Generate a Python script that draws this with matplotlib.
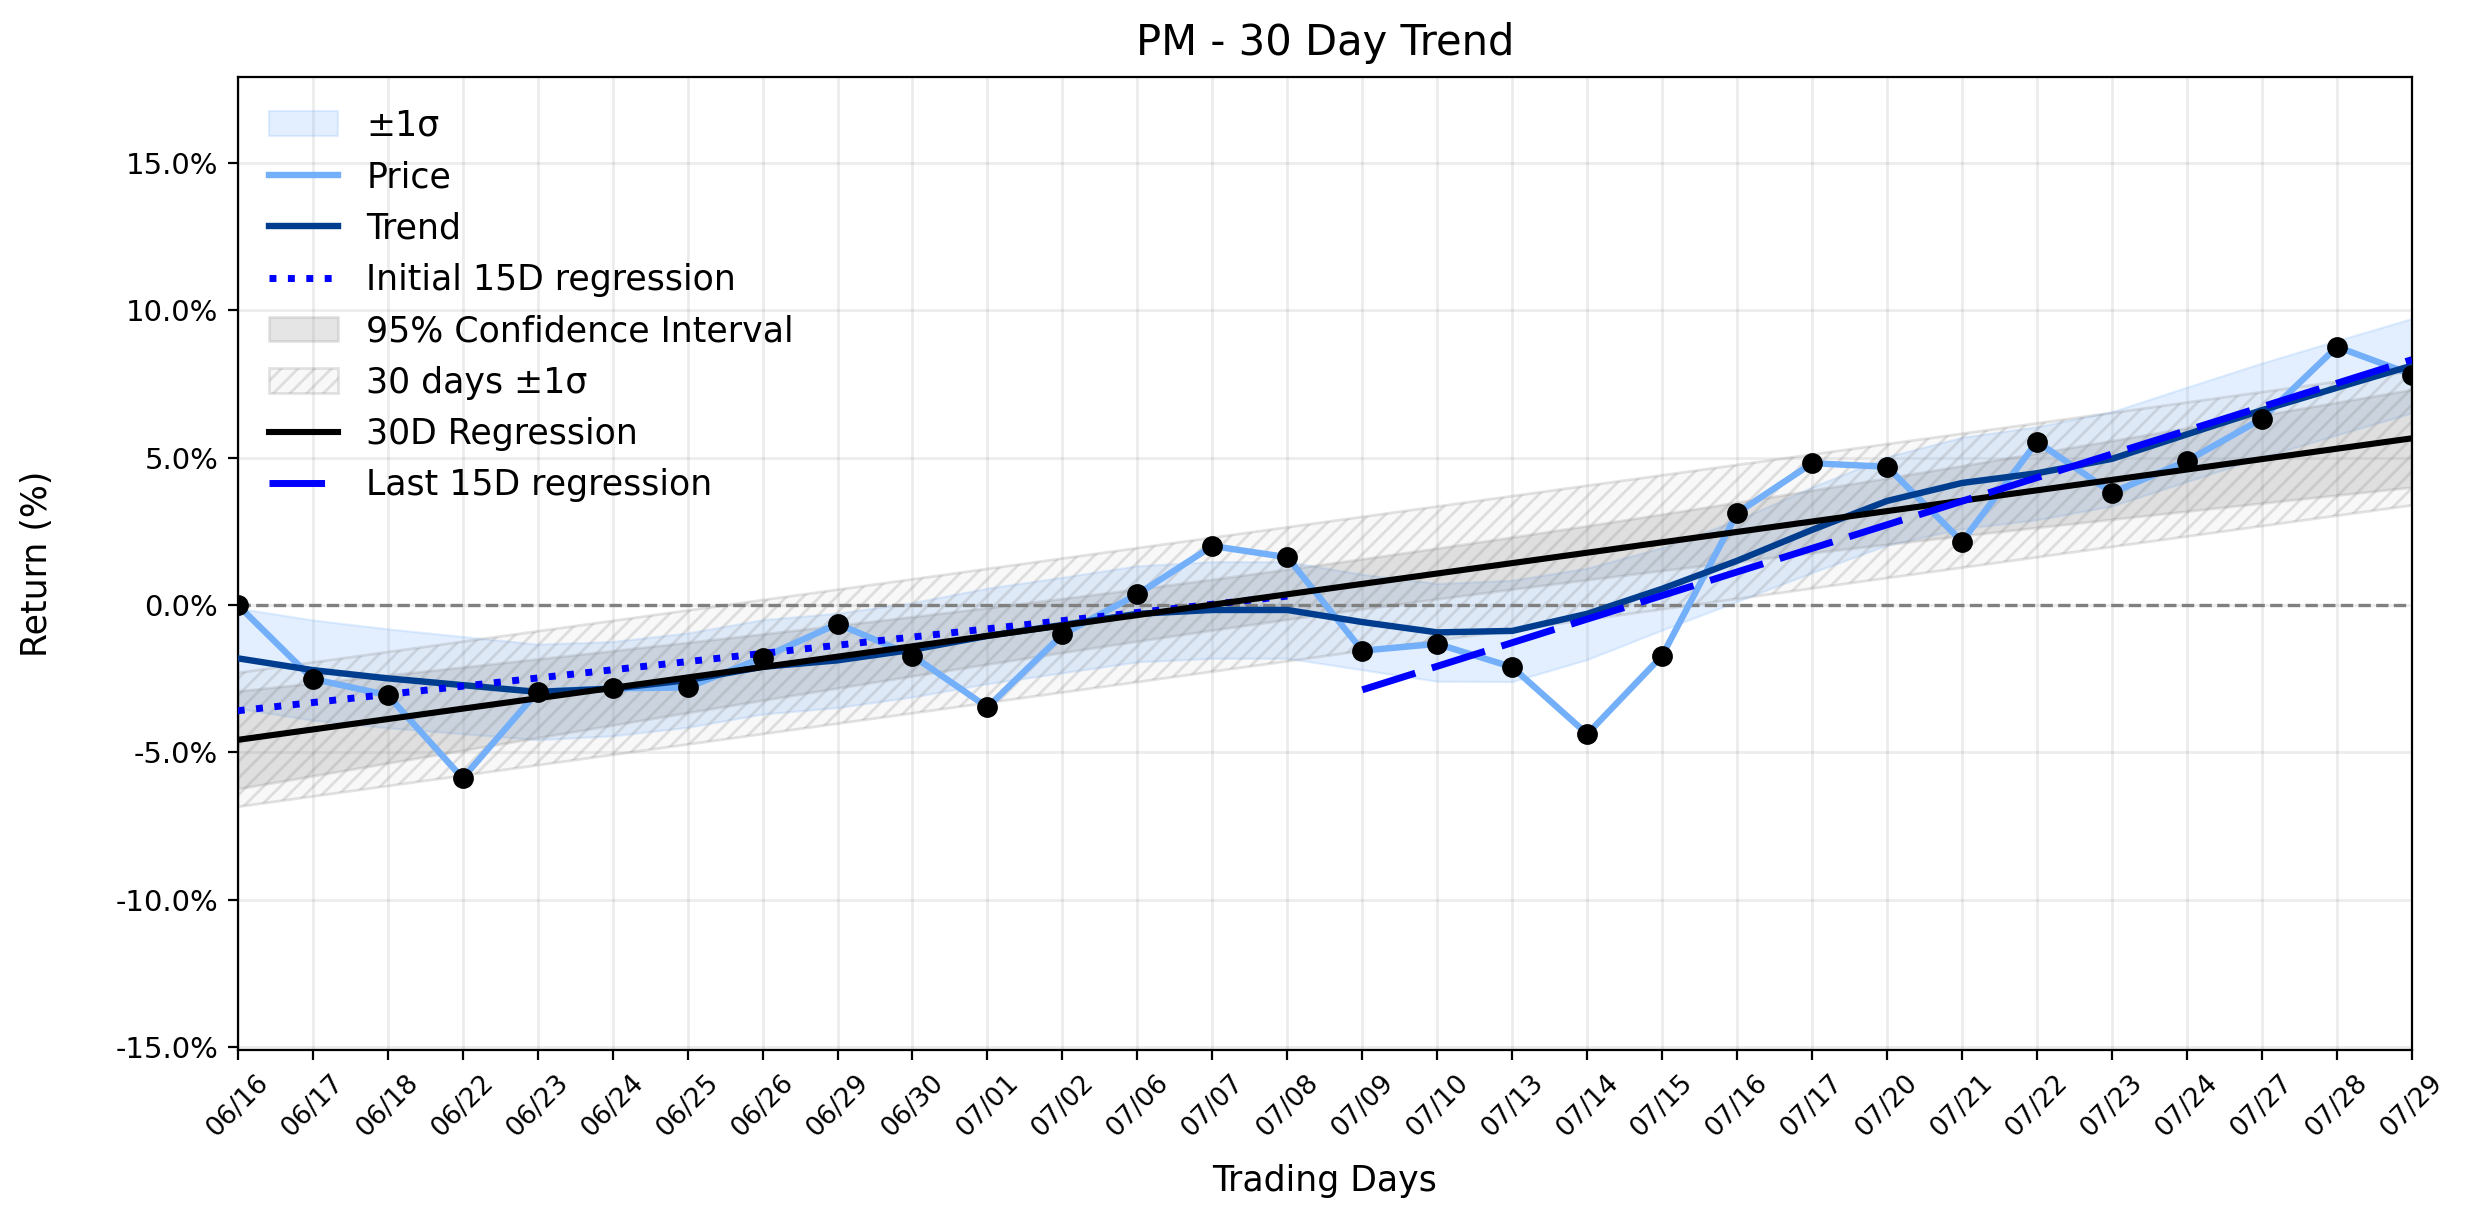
import numpy as np
import matplotlib
matplotlib.use('Agg')
import matplotlib.pyplot as plt
from matplotlib.ticker import FuncFormatter

# Data
dates = ['06/16','06/17','06/18','06/22','06/23','06/24','06/25','06/26','06/29','06/30',
         '07/01','07/02','07/06','07/07','07/08','07/09','07/10','07/13','07/14','07/15',
         '07/16','07/17','07/20','07/21','07/22','07/23','07/24','07/27','07/28','07/29']
price = [0.00, -2.51, -3.06, -5.88, -2.94, -2.83, -2.80, -1.79, -0.64, -1.72,
         -3.47, -1.00, 0.36, 2.00, 1.62, -1.55, -1.32, -2.11, -4.38, -1.72,
         3.12, 4.81, 4.69, 2.15, 5.54, 3.81, 4.89, 6.32, 8.76, 7.82]
trend = [-1.81, -2.21, -2.49, -2.72, -2.95, -2.84, -2.55, -2.10, -1.88, -1.52,
         -1.05, -0.68, -0.30, -0.17, -0.17, -0.58, -0.93, -0.88, -0.30, 0.55,
         1.50, 2.55, 3.53, 4.14, 4.47, 4.96, 5.79, 6.61, 7.37, 8.12]
sigma = [1.70, 1.70, 1.68, 1.65, 1.62, 1.60, 1.60, 1.60, 1.60, 1.60,
         1.62, 1.62, 1.63, 1.64, 1.64, 1.62, 1.66, 1.72, 1.55, 1.40,
         1.38, 1.45, 1.50, 1.55, 1.58, 1.60, 1.60, 1.60, 1.60, 1.60]

x = np.arange(len(dates))
price = np.array(price)
trend = np.array(trend)
sigma = np.array(sigma)
n = len(x)

# 30 day regression, residual std and 95% CI
p30 = np.polyfit(x, price, 1)
reg30 = np.polyval(p30, x)
resid_std = np.std(price - reg30, ddof=1)
sxx = np.sum((x - x.mean())**2)
ci = 2.048 * resid_std * np.sqrt(1.0/n + (x - x.mean())**2 / sxx)

# initial / last 15 day regressions
xa, xb = x[:15], x[15:]
p_a = np.polyfit(xa, price[:15], 1)
p_b = np.polyfit(xb, price[15:], 1)

fig = plt.figure(figsize=(12.37, 6.12), dpi=200)
ax = fig.add_axes([0.0961, 0.1422, 0.8788, 0.7945])

ax.fill_between(x, trend - sigma, trend + sigma, color='#74AFFA', alpha=0.2, lw=0.8, label='±1σ')
ax.plot(x, price, color='#74AFFA', lw=2.3, label='Price', zorder=3)
ax.plot(x, trend, color='#003d8f', lw=2.3, label='Trend', zorder=4)
ax.plot(xa, np.polyval(p_a, xa), color='blue', ls=':', lw=2.5, label='Initial 15D regression', zorder=5)
ax.fill_between(x, reg30 - ci, reg30 + ci, color='gray', alpha=0.2, label='95% Confidence Interval')
ax.fill_between(x, reg30 - resid_std, reg30 + resid_std, facecolor=(0.5, 0.5, 0.5, 0.05),
                edgecolor=(0.5, 0.5, 0.5, 0.22), hatch='////', lw=1, label='30 days ±1σ')
ax.plot(x, reg30, color='black', lw=2.2, label='30D Regression', zorder=5)
ax.plot(xb, np.polyval(p_b, xb), color='blue', lw=2.5, dashes=(8, 2.5), label='Last 15D regression', zorder=6)
ax.scatter(x, price, s=42, color='black', zorder=7)
ax.axhline(0, color='gray', ls='--', lw=1.2, zorder=2)

ax.set_xlim(0, n - 1)
ax.set_ylim(-15.1, 17.9)
ax.set_xticks(x)
ax.set_xticklabels(dates, rotation=45, fontsize=9.5)
ax.set_yticks([-15, -10, -5, 0, 5, 10, 15])
ax.yaxis.set_major_formatter(FuncFormatter(lambda v, pos: '%.1f%%' % v))
ax.tick_params(axis='y', labelsize=10.5)
ax.grid(True, color='gray', alpha=0.15, lw=1)
ax.set_axisbelow(True)

ax.set_title('PM - 30 Day Trend', fontsize=15, pad=8)
ax.set_xlabel('Trading Days', fontsize=12.5, labelpad=8)
ax.set_ylabel('Return (%)', fontsize=12.5, labelpad=22)
ax.legend(loc='upper left', frameon=False, fontsize=12.5)

fig.savefig('out.png', dpi=200)
